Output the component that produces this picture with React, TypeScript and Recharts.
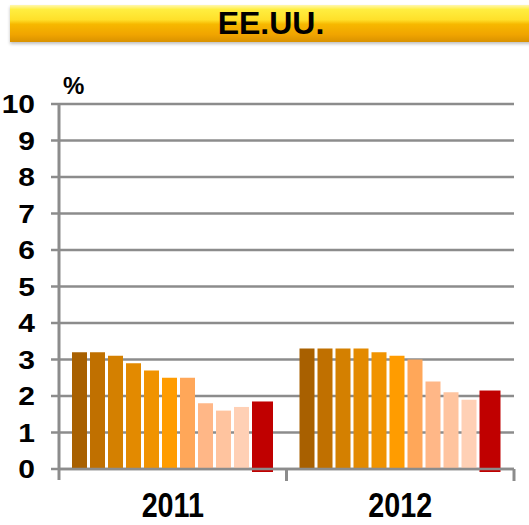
import { Bar, BarChart, CartesianGrid, XAxis, YAxis } from "recharts";

const years = ["2011", "2012"];
const forecasts2011 = [3.2, 3.2, 3.1, 2.9, 2.7, 2.5, 2.5, 1.8, 1.6, 1.7, 1.85];
const forecasts2012 = [3.3, 3.3, 3.3, 3.3, 3.2, 3.1, 3.0, 2.4, 2.1, 1.9, 2.15];
const yTicks = [0, 1, 2, 3, 4, 5, 6, 7, 8, 9, 10];

const barColors = [
  "#A86000",
  "#C07000",
  "#D48000",
  "#E38A00",
  "#F09300",
  "#FF9C00",
  "#FFA759",
  "#FFB787",
  "#FFC49F",
  "#FFD0B5",
  "#C00000",
];

const byYear = [forecasts2011, forecasts2012];
const data = years.map((year, i) => {
  const row: Record<string, string | number> = { year };
  byYear[i].forEach((v, k) => {
    row[`s${k}`] = v;
  });
  return row;
});

const GRID = "#8c8c8c";
const FONT = "'Liberation Sans', Arial, sans-serif";
const W = 529;
const H = 525;
const MARGIN = { top: 104, right: 15, left: 9, bottom: 0 };
const Y_WIDTH = 50;
const X_HEIGHT = 56;
const PLOT_BOTTOM = H - X_HEIGHT;
const HALF_BAND = (W - MARGIN.left - MARGIN.right - Y_WIDTH) / years.length / 2;

function XTick({ x, payload, index }: any) {
  return (
    <g>
      <line x1={x + HALF_BAND} x2={x + HALF_BAND} y1={PLOT_BOTTOM} y2={PLOT_BOTTOM + 12} stroke={GRID} strokeWidth={3} />
      {index === 0 && (
        <line x1={x - HALF_BAND} x2={x - HALF_BAND} y1={PLOT_BOTTOM} y2={PLOT_BOTTOM + 11} stroke={GRID} strokeWidth={3} />
      )}
      <text
        transform={`translate(${x},${PLOT_BOTTOM + 48}) scale(0.87,1.05)`}
        textAnchor="middle"
        fontFamily={FONT}
        fontWeight="bold"
        fontSize={33}
        fill="#000"
      >
        {payload.value}
      </text>
    </g>
  );
}

function YTick({ x, y, payload }: any) {
  return (
    <text
      transform={`translate(${x},${y}) scale(1.2,1)`}
      textAnchor="end"
      dy="0.36em"
      fontFamily={FONT}
      fontWeight="bold"
      fontSize={25}
      fill="#000"
    >
      {payload.value}
    </text>
  );
}

function RedBar({ x, y, width, height, fill }: any) {
  return <rect x={x} y={y} width={width} height={height + 3} fill={fill} />;
}

export default function App() {
  return (
    <div style={{ position: "absolute", left: 0, top: 0, width: W, height: H, overflow: "hidden", background: "#fff" }}>
      <div
        style={{
          position: "absolute",
          left: 10,
          top: 5,
          width: 540,
          height: 37,
          background:
            "linear-gradient(to bottom, #FFF7B0 0%, #FFEE40 12%, #FFE02A 40%, #F7B800 52%, #F0A400 80%, #D99200 100%)",
          boxShadow: "0 2px 3px rgba(0,0,0,0.25)",
          textAlign: "center",
          fontFamily: FONT,
          fontWeight: "bold",
          fontSize: 32,
          lineHeight: "37px",
          color: "#000",
          paddingRight: 18,
          boxSizing: "border-box",
        }}
      >
        EE.UU.
      </div>
      <div
        style={{
          position: "absolute",
          left: 63,
          top: 72,
          fontFamily: FONT,
          fontWeight: "bold",
          fontSize: 24,
          color: "#000",
        }}
      >
        %
      </div>
      <div style={{ position: "absolute", left: 0, top: 0 }}>
        <BarChart width={W} height={H} data={data} margin={MARGIN} barGap={3} barCategoryGap={0}>
          <CartesianGrid vertical={false} stroke={GRID} strokeWidth={2.5} />
          <XAxis
            dataKey="year"
            height={X_HEIGHT}
            tickLine={false}
            axisLine={{ stroke: GRID, strokeWidth: 2.5 }}
            tick={<XTick />}
            interval={0}
          />
          <YAxis
            width={Y_WIDTH}
            domain={[0, 10]}
            ticks={yTicks}
            interval={0}
            tickSize={8}
            tickMargin={16}
            axisLine={{ stroke: GRID, strokeWidth: 3 }}
            tickLine={{ stroke: GRID, strokeWidth: 2.5 }}
            tick={<YTick />}
          />
          {barColors.map((color, k) => (
            <Bar
              key={k}
              dataKey={`s${k}`}
              fill={color}
              barSize={k === barColors.length - 1 ? 21 : 15}
              shape={k === barColors.length - 1 ? <RedBar /> : undefined}
              isAnimationActive={false}
            />
          ))}
        </BarChart>
      </div>
    </div>
  );
}
